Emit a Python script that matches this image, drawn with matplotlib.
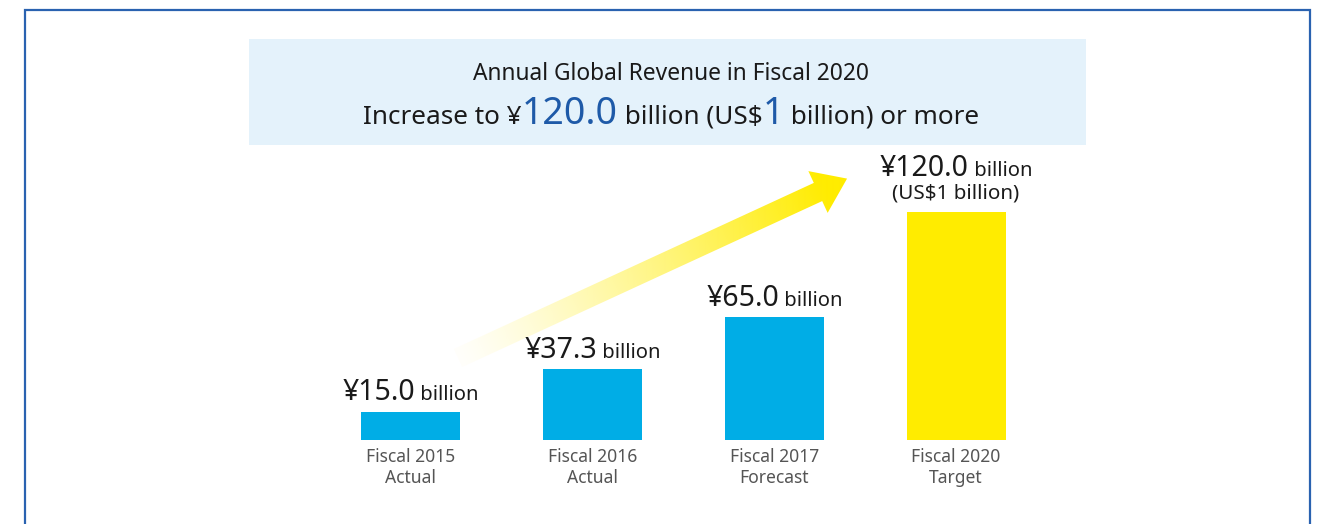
import matplotlib
matplotlib.use("Agg")
import matplotlib.pyplot as plt
import numpy as np
from matplotlib.patches import Rectangle, Polygon

# ---------------- data ----------------
categories = ["Fiscal 2015\nActual", "Fiscal 2016\nActual",
              "Fiscal 2017\nForecast", "Fiscal 2020\nTarget"]
values = [15.0, 37.3, 65.0, 120.0]
value_main = ["¥15.0", "¥37.3", "¥65.0", "¥120.0"]
value_unit = [" billion", " billion", " billion", " billion"]
usd_note = ["", "", "", "(US$1 billion)"]
title_line1 = "Annual Global Revenue in Fiscal 2020"
title_line2 = ["Increase to ¥", "120.0", " billion (US$", "1", " billion) or more"]
title_line2_highlight = [False, True, False, True, False]

# ---------------- style ----------------
FONT = ["Noto Sans", "DejaVu Sans"]
BLUE_BAR = "#00ade6"
YELLOW = "#ffec00"
bar_colors = [BLUE_BAR, BLUE_BAR, BLUE_BAR, YELLOW]
TXT = "#1a1a1a"
HILITE = "#1e5aa8"
GRAY = "#555555"
BORDER = "#2a62b0"

W, H = 1322, 524
fig = plt.figure(figsize=(W / 100, H / 100), dpi=100)
fig.patch.set_facecolor("white")

overlay = fig.add_axes([0, 0, 1, 1], zorder=0)
overlay.set_xlim(0, W)
overlay.set_ylim(H, 0)
overlay.axis("off")

# frame (no bottom edge)
overlay.plot([25, 25, 1310, 1310], [H + 5, 10, 10, H + 5], color=BORDER, lw=1.6,
             solid_joinstyle="miter")

# title panel
overlay.add_patch(Rectangle((249, 39), 1086 - 249, 145 - 39, facecolor="#e4f2fb",
                            edgecolor="none"))

# ---------------- bars ----------------
ax_left, ax_right, ax_top, ax_bot = 320, 1047, 212, 440
ax = fig.add_axes([ax_left / W, (H - ax_bot) / H, (ax_right - ax_left) / W,
                   (ax_bot - ax_top) / H], zorder=1)
ax.patch.set_alpha(0)
x = np.arange(len(values))
ax.bar(x, values, width=0.545, color=bar_colors)
ax.set_xlim(-0.5, len(values) - 0.5)
ax.set_ylim(0, max(values))
for s in ax.spines.values():
    s.set_visible(False)
ax.set_yticks([])
ax.set_xticks(x)
ax.set_xticklabels(categories, color=GRAY, fontsize=12.6, family=FONT, linespacing=1.22)
ax.tick_params(axis="x", length=0, pad=6)

# ---------------- gradient arrow ----------------
tail = np.array([458.0, 358.0])
back = np.array([818.0, 192.0])
tipdir = (back - tail) / np.linalg.norm(back - tail)
tip = back + tipdir * 32
perp = np.array([tipdir[1], -tipdir[0]])
hw, hh = 10.0, 23.0
poly = np.array([tail + perp * hw, back + perp * hw, back + perp * hh, tip,
                 back - perp * hh, back - perp * hw, tail - perp * hw])
arrow_patch = Polygon(poly, closed=True, facecolor="none", edgecolor="none",
                      transform=overlay.transData)
overlay.add_patch(arrow_patch)
x0, x1 = poly[:, 0].min() - 2, poly[:, 0].max() + 2
y0, y1 = poly[:, 1].min() - 2, poly[:, 1].max() + 2
gx, gy = np.meshgrid(np.linspace(x0, x1, 400), np.linspace(y0, y1, 200))
L = np.linalg.norm(tip - tail)
t = ((gx - tail[0]) * tipdir[0] + (gy - tail[1]) * tipdir[1]) / L
t = np.clip(t, 0, 1)
rgba = np.zeros(gx.shape + (4,))
yc = matplotlib.colors.to_rgb(YELLOW)
rgba[..., 0] = yc[0]
rgba[..., 1] = yc[1]
rgba[..., 2] = yc[2]
rgba[..., 3] = np.clip(0.02 + 1.05 * t ** 1.2, 0, 1)
im = overlay.imshow(rgba, extent=(x0, x1, y1, y0), origin="upper",
                    interpolation="bilinear", zorder=2)
im.set_clip_path(arrow_patch)
overlay.set_xlim(0, W)
overlay.set_ylim(H, 0)

# ---------------- text helpers ----------------
fig.canvas.draw()
renderer = fig.canvas.get_renderer()


def row(pieces, cx, by):
    texts = []
    for s, size, color in pieces:
        tt = overlay.text(0, by, s, fontsize=size, color=color, ha="left",
                          va="baseline", family=FONT, zorder=5)
        texts.append(tt)
    widths = [tt.get_window_extent(renderer).width for tt in texts]
    xx = cx - sum(widths) / 2
    for tt, w in zip(texts, widths):
        tt.set_x(xx)
        xx += w


# title
row([(title_line1, 16.4, TXT)], 671, 80)
row([(s, 27 if h else 18.8, HILITE if h else TXT)
     for s, h in zip(title_line2, title_line2_highlight)], 671, 124)

# value labels
for i, v in enumerate(values):
    dx, dy = ax.transData.transform((i, v))
    top_px = H - dy
    if usd_note[i]:
        row([(usd_note[i], 14.8, TXT)], dx, top_px - 14)
        row([(value_main[i], 20.5, TXT), (value_unit[i], 14.5, TXT)], dx, top_px - 36)
    else:
        row([(value_main[i], 20.5, TXT), (value_unit[i], 14.5, TXT)], dx, top_px - 11)

fig.savefig("out.png", dpi=100, facecolor="white")
